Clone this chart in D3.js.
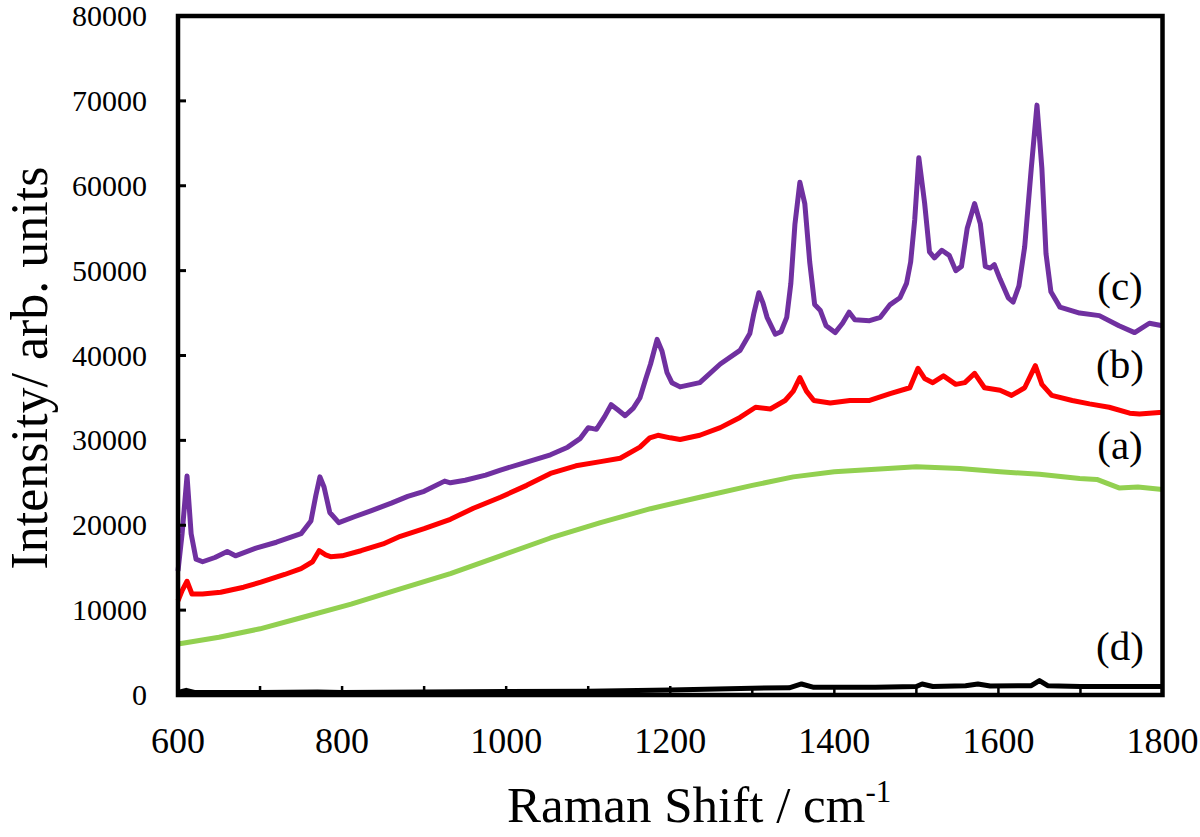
<!DOCTYPE html>
<html>
<head>
<meta charset="utf-8">
<script src="https://cdn.jsdelivr.net/npm/d3@7"></script>
<style>
  body { margin: 0; background: #fff; }
  svg text { font-family: "Liberation Serif", "Times New Roman", serif; fill: #000; }
</style>
</head>
<body>
<div id="chart"></div>
<script>
// spectra: [Raman shift (cm-1), intensity]
const spectrumC = [
  [600,14600],[605,19000],[611,25800],[616,19000],[622,16000],[630,15700],[645,16200],[660,16900],
  [670,16400],[695,17300],[720,18000],[750,19000],[762,20500],[768,23500],[773,25700],[778,24500],
  [785,21500],[796,20300],[815,21000],[835,21700],[860,22600],[880,23400],[900,24000],[925,25200],
  [932,25000],[950,25300],[975,25900],[993,26500],[1020,27300],[1054,28300],[1075,29200],[1090,30200],
  [1100,31500],[1110,31300],[1120,32800],[1128,34200],[1136,33600],[1145,32900],[1155,33800],[1163,35000],
  [1170,37200],[1176,39000],[1184,41900],[1190,40500],[1196,38000],[1202,36800],[1212,36300],[1236,36800],
  [1261,39000],[1285,40600],[1297,42600],[1302,45000],[1308,47400],[1313,46200],[1318,44500],[1328,42500],
  [1335,42800],[1342,44500],[1347,48500],[1352,55500],[1358,60400],[1364,57900],[1370,51000],[1376,46000],
  [1383,45300],[1390,43500],[1401,42700],[1410,43800],[1418,45100],[1425,44200],[1443,44100],[1456,44500],
  [1468,46000],[1480,46800],[1488,48500],[1493,51000],[1498,56000],[1503,63300],[1510,58000],[1516,52200],
  [1522,51500],[1531,52400],[1540,51800],[1548,50000],[1555,50500],[1562,55000],[1571,57900],[1578,55500],
  [1584,50500],[1590,50300],[1595,50700],[1602,49000],[1612,46800],[1618,46300],[1625,48200],[1632,52800],
  [1640,62000],[1647,69500],[1653,62000],[1658,52000],[1664,47500],[1675,45700],[1699,45000],[1723,44700],
  [1747,43500],[1766,42700],[1784,43800],[1800,43500]
];
const spectrumB = [
  [600,11100],[605,12300],[611,13400],[617,11900],[630,11900],[652,12100],[680,12700],[701,13300],
  [730,14200],[750,14900],[764,15700],[772,17000],[780,16500],[786,16300],[800,16400],[823,17000],
  [850,17800],[871,18700],[900,19600],[932,20700],[960,22000],[993,23300],[1025,24700],[1054,26100],
  [1085,27000],[1115,27500],[1139,27900],[1163,29200],[1175,30300],[1185,30600],[1200,30300],[1212,30100],
  [1236,30600],[1261,31500],[1285,32700],[1304,33900],[1322,33700],[1340,34700],[1350,35800],[1358,37400],
  [1366,35800],[1375,34700],[1395,34400],[1419,34700],[1443,34700],[1468,35500],[1492,36200],[1502,38500],
  [1510,37300],[1520,36800],[1533,37600],[1548,36600],[1559,36800],[1571,37900],[1583,36200],[1602,35900],
  [1616,35300],[1632,36200],[1645,38800],[1653,36600],[1665,35300],[1690,34700],[1711,34300],[1735,33900],
  [1760,33200],[1772,33100],[1800,33300]
];
const spectrumA = [
  [600,6000],[650,6800],[700,7800],[750,9100],[811,10700],[871,12500],[932,14300],[993,16400],
  [1054,18500],[1115,20300],[1176,21950],[1236,23300],[1300,24700],[1350,25700],[1400,26300],[1450,26600],
  [1500,26900],[1553,26700],[1602,26300],[1650,26000],[1699,25500],[1720,25400],[1747,24400],[1770,24500],
  [1800,24200]
];
const spectrumD = [
  [600,300],[610,550],[620,300],[700,300],[770,350],[800,300],[900,350],[1000,400],[1100,450],
  [1200,600],[1300,800],[1345,850],[1360,1300],[1375,900],[1450,900],[1500,1000],[1507,1300],[1520,1000],
  [1560,1100],[1575,1300],[1590,1050],[1640,1100],[1650,1700],[1660,1100],[1700,1000],[1800,1000]
];

const seriesNames = ['(c)', '(b)', '(a)', '(d)'];
const seriesColors = ['#7030a0', '#ff0000', '#92d050', '#000000'];
const seriesData = [spectrumC, spectrumB, spectrumA, spectrumD];
const labelValues = [46500, 37300, 27800, 4100]; // where each label sits, in intensity units

const xTicks = [600, 800, 1000, 1200, 1400, 1600, 1800];
const xMinorTicks = d3.range(600, 1801, 100);
const yTicks = [0, 10000, 20000, 30000, 40000, 50000, 60000, 70000, 80000];

const width = 1200, height = 837;
const margin = {left: 178, right: 1200 - 1162.5, top: 16, bottom: 837 - 695};

const svg = d3.select('#chart').append('svg')
  .attr('width', width)
  .attr('height', height);

const x = d3.scaleLinear().domain([600, 1800]).range([margin.left, width - margin.right]);
const y = d3.scaleLinear().domain([0, 80000]).range([height - margin.bottom, margin.top]);

// data lines
const line = d3.line().x(d => x(d[0])).y(d => y(d[1]));
svg.append('g').selectAll('path')
  .data(seriesData)
  .join('path')
  .attr('d', line)
  .attr('fill', 'none')
  .attr('stroke', (d, i) => seriesColors[i])
  .attr('stroke-width', 5)
  .attr('stroke-linejoin', 'round');

// frame
svg.append('rect')
  .attr('x', x(600)).attr('y', y(80000))
  .attr('width', x(1800) - x(600)).attr('height', y(0) - y(80000))
  .attr('fill', 'none').attr('stroke', '#000').attr('stroke-width', 4.5);

// x axis: inward ticks every 100, labels every 200
const xAxis = svg.append('g').attr('transform', `translate(0,${y(0)})`);
xAxis.selectAll('line')
  .data(xMinorTicks)
  .join('line')
  .attr('x1', d => x(d)).attr('x2', d => x(d))
  .attr('y1', 0).attr('y2', -9)
  .attr('stroke', '#000').attr('stroke-width', 2.5);
xAxis.selectAll('text')
  .data(xTicks)
  .join('text')
  .attr('x', d => x(d)).attr('y', 58)
  .attr('text-anchor', 'middle')
  .style('font-size', '36px')
  .text(d => d);

// y axis: inward ticks
const yAxis = svg.append('g').attr('transform', `translate(${x(600)},0)`);
yAxis.selectAll('line')
  .data(yTicks)
  .join('line')
  .attr('x1', 0).attr('x2', 8)
  .attr('y1', d => y(d)).attr('y2', d => y(d))
  .attr('stroke', '#000').attr('stroke-width', 3);
yAxis.selectAll('text')
  .data(yTicks)
  .join('text')
  .attr('x', -31).attr('y', d => y(d) + 10)
  .attr('text-anchor', 'end')
  .style('font-size', '30px')
  .text(d => d);

// series labels
svg.append('g').selectAll('text')
  .data(seriesNames)
  .join('text')
  .attr('x', 1120).attr('y', (d, i) => y(labelValues[i]))
  .attr('text-anchor', 'middle')
  .style('font-size', '41px')
  .text(d => d);

// axis titles
const xTitle = svg.append('text')
  .attr('x', 507).attr('y', 822)
  .style('font-size', '51px');
xTitle.append('tspan').text('Raman Shift / cm');
xTitle.append('tspan').attr('dy', -20).style('font-size', '31px').text('-1');

svg.append('text')
  .attr('transform', 'translate(47,368) rotate(-90)')
  .attr('text-anchor', 'middle')
  .style('font-size', '52px')
  .text('Intensity/ arb. units');
</script>
</body>
</html>
